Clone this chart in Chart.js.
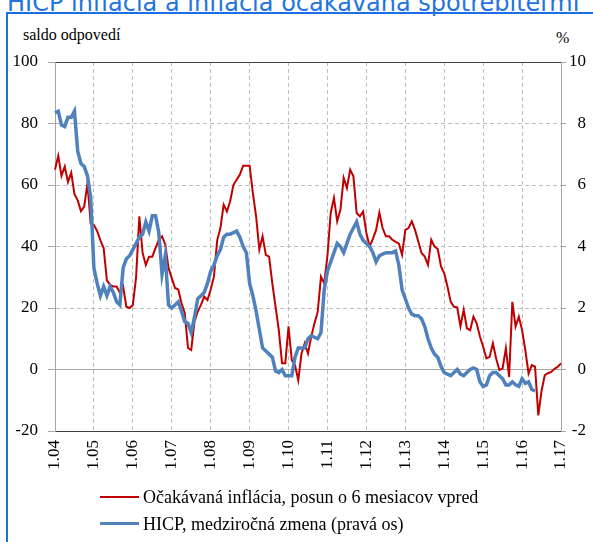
<!DOCTYPE html>
<html>
<head>
<meta charset="utf-8">
<script src="https://cdn.jsdelivr.net/npm/chart.js@4.4.1/dist/chart.umd.min.js"></script>
<style>
  html, body { margin: 0; padding: 0; background: #fff; }
  #wrap { position: relative; width: 593px; height: 542px; overflow: hidden; }
  #frame { position: absolute; left: 6px; top: 12px; width: 700px; height: 700px;
           border: 2px solid #1a6fe6; box-sizing: border-box; }
  #title { position: absolute; left: 7px; top: -9px; font: 24px "DejaVu Sans"; line-height: 24px;
           color: #1f74e0; white-space: nowrap; }
  .unit { position: absolute; font: 16px "Liberation Serif", serif; line-height: 16px; color: #000; }
  .leg { position: absolute; left: 100px; height: 16px; font: 18px "Liberation Serif", serif; line-height: 16px;
         color: #000; white-space: nowrap; }
  .leg .ln { position: absolute; left: 0; width: 39px; }
  .leg .tx { position: absolute; left: 43px; top: 0; }
  #chart { position: absolute; left: 0; top: 0; }
</style>
</head>
<body>
<div id="wrap">
  <div id="frame"></div>
  <div id="title">HICP inflácia a inflácia očakávaná spotrebiteľmi</div>
  <div class="unit" style="left:23px; top:27px;">saldo odpovedí</div>
  <div class="unit" style="left:556px; top:30px;">%</div>
  <canvas id="chart" width="593" height="542"></canvas>
  <div class="leg" style="top:489px;"><div class="ln" id="legRed" style="top:7px; height:2px;"></div><span class="tx" id="legRedTx"></span></div>
  <div class="leg" style="top:516px;"><div class="ln" id="legBlue" style="top:6px; height:3px;"></div><span class="tx" id="legBlueTx"></span></div>
</div>
<script>
// tick labels on the x axis (month.year, January of each year)
const tickLabels = ['1.04', '1.05', '1.06', '1.07', '1.08', '1.09', '1.10', '1.11', '1.12', '1.13', '1.14', '1.15', '1.16', '1.17'];
const years = ['04', '05', '06', '07', '08', '09', '10', '11', '12', '13', '14', '15', '16', '17'];

// monthly categories 1.04 ... 1.17
const categories = [];
years.forEach((yy, i) => {
    const months = i === years.length - 1 ? 1 : 12;
    for (let m = 1; m <= months; m++) categories.push(m + '.' + yy);
});

// expected inflation, balance of answers, shifted 6 months ahead (left axis)
const expectedInflation = [
    65, 69.5, 63, 66, 61, 64, 57, 55, 51.5, 53, 60.5, 47.5,
    47, 45, 42, 39.5, 29, 27.5, 27, 27, 25, 27, 20.4, 20,
    21, 30, 49.8, 38, 34, 36.7, 36.7, 39.5, 42.2, 43.3, 40.6, 33,
    29.7, 26.5, 26, 21.6, 18.4, 7, 6.3, 15.6, 18.8, 21, 23.7, 22.6,
    26, 30.2, 42, 46, 53.6, 51.4, 54.7, 60, 61.7, 63.4, 66.3, 66.3,
    66.3, 57.4, 49.8, 39, 43.3, 37.3, 36.7, 28, 20.4, 12.8, 2, 2,
    14, 3, 1.4, -3.5, 5.2, 8.5, 5.2, 10.7, 15, 18.8, 30.2, 28,
    37, 50.9, 55.8, 48.2, 52, 62.3, 59, 65, 62.8, 50.9, 49.8, 51.4,
    44.4, 40, 42.5, 45.4, 51, 46, 43.3, 43.3, 42.2, 41.5, 41, 37.3,
    45.4, 46, 48.2, 45.4, 41.6, 37.9, 36.7, 34, 42.2, 40, 39.2, 33.5,
    31.3, 27, 22, 20.4, 20.2, 14, 19.4, 13.4, 12.8, 17.2, 15, 10.7,
    7.4, 3.6, 4.1, 8.5, 3.6, -0.2, 0.4, 6.9, -2.4, 22, 14, 17.2,
    12.8, 6.3, -1.3, 1.4, 0.9, -14.9, -7, -1.8, -1.2, -0.8, 0.2, 0.9,
    2
];

// HICP, year-on-year change in % (right axis)
const hicp = [
    8.35, 8.4, 7.95, 7.9, 8.2, 8.2, 8.4, 7.1, 6.7, 6.6, 6.3, 5.6,
    3.3, 2.8, 2.4, 2.7, 2.4, 2.7, 2.5, 2.2, 2.1, 3.3, 3.6, 3.7,
    3.9, 4.1, 4.3, 4.4, 4.8, 4.5, 5.0, 5.0, 4.45, 3.1, 3.7, 2.1,
    2.0, 2.1, 2.2, 1.9, 1.55, 1.5, 1.2, 1.7, 2.3, 2.4, 2.5, 2.8,
    3.2, 3.4, 3.7, 3.9, 4.3, 4.4, 4.4, 4.45, 4.5, 4.3, 4.0, 3.8,
    2.8, 2.4, 1.9, 1.3, 0.7, 0.6, 0.5, 0.4, -0.05, -0.1, 0.0, -0.2,
    -0.2, -0.2, 0.4, 0.7, 0.7, 0.7, 1.0, 1.1, 1.05, 1.0, 1.2, 2.6,
    3.2, 3.5, 3.8, 4.1, 4.0, 3.8, 4.1, 4.4, 4.6, 4.8, 4.4, 4.2,
    4.1, 4.0, 3.8, 3.5, 3.7, 3.75, 3.8, 3.8, 3.8, 3.85, 3.4, 2.6,
    2.3, 2.0, 1.8, 1.75, 1.75, 1.65, 1.4, 1.0, 0.7, 0.5, 0.4, 0.1,
    -0.1, -0.15, -0.2, -0.1, 0.0, -0.15, -0.2, -0.1, 0.0, 0.05, 0.0, -0.4,
    -0.55, -0.5, -0.2, -0.1, -0.1, -0.2, -0.3, -0.5, -0.5, -0.4, -0.5, -0.55,
    -0.3, -0.45, -0.4, -0.65, -0.7
];

const seriesNames = ['Očakávaná inflácia, posun o 6 mesiacov vpred', 'HICP, medziročná zmena (pravá os)'];

const RED = '#c00000';
const BLUE = '#4f81bd';
const GRID = '#bdbdbd';
const AXIS = '#a6a6a6';
const DARK = '#404040';
const tickFont = { family: '"Liberation Serif", "Times New Roman", serif', size: 17 };

document.getElementById('legRed').style.background = RED;
document.getElementById('legBlue').style.background = BLUE;
document.getElementById('legRedTx').textContent = seriesNames[0];
document.getElementById('legBlueTx').textContent = seriesNames[1];

const tickVal = ctx => (ctx && ctx.tick ? ctx.tick.value : null);

new Chart(document.getElementById('chart'), {
    type: 'line',
    data: {
        labels: categories,
        datasets: [
            {
                label: seriesNames[0],
                data: expectedInflation,
                borderColor: RED,
                backgroundColor: RED,
                borderWidth: 2,
                pointRadius: 0,
                tension: 0,
                yAxisID: 'y',
                order: 1
            },
            {
                label: seriesNames[1],
                data: hicp,
                borderColor: BLUE,
                backgroundColor: BLUE,
                borderWidth: 3.5,
                pointRadius: 0,
                tension: 0,
                yAxisID: 'y1',
                order: 0
            }
        ]
    },
    options: {
        responsive: false,
        animation: false,
        layout: { padding: { top: 62, right: 7, bottom: 51, left: 0 } },
        plugins: {
            legend: { display: false },
            tooltip: { enabled: false }
        },
        scales: {
            x: {
                type: 'category',
                offset: false,
                grid: { color: GRID, drawTicks: false },
                border: { color: DARK, dash: [4, 3] },
                ticks: {
                    autoSkip: false,
                    minRotation: 90,
                    maxRotation: 90,
                    padding: 9,
                    color: '#000',
                    font: tickFont,
                    callback(value) {
                        const lab = this.getLabelForValue(value);
                        return tickLabels.includes(lab) ? lab : null;
                    }
                },
                afterFit(scale) { scale.height = 60; }
            },
            y: {
                position: 'left',
                min: -20,
                max: 100,
                ticks: { stepSize: 20, padding: 10, color: '#000', font: tickFont },
                grid: {
                    tickLength: 7,
                    tickColor: AXIS,
                    color: ctx => {
                        const v = tickVal(ctx);
                        if (v === 100 || v === -20) return DARK;
                        if (v === 0) return AXIS;
                        return GRID;
                    }
                },
                border: {
                    color: AXIS,
                    dash: ctx => {
                        const v = tickVal(ctx);
                        return (v === 0 || v === 100 || v === -20) ? [] : [4, 3];
                    }
                },
                afterFit(scale) { scale.width = 55; }
            },
            y1: {
                position: 'right',
                min: -2,
                max: 10,
                ticks: { stepSize: 2, padding: 4, crossAlign: 'far', color: '#000', font: tickFont },
                grid: { drawOnChartArea: false, tickLength: 5, color: AXIS },
                border: { color: AXIS },
                afterFit(scale) { scale.width = 25; }
            }
        }
    }
});
</script>
</body>
</html>
